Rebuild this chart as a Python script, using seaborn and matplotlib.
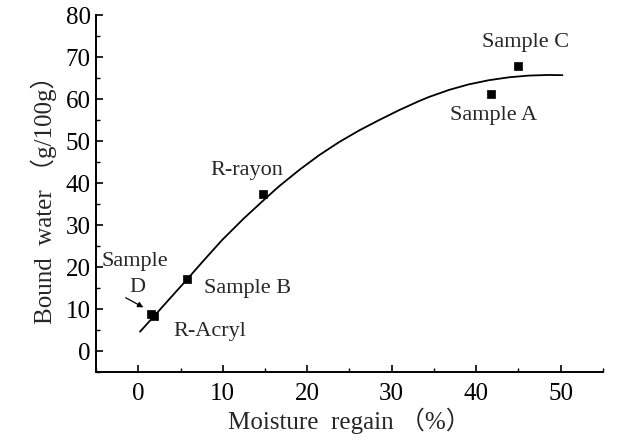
import matplotlib
matplotlib.use("Agg")
import matplotlib.pyplot as plt
import seaborn as sns
import pandas as pd
from matplotlib.ticker import MultipleLocator

# Sample points
sample_names = ["Sample D", "R-Acryl", "Sample B", "R-rayon", "Sample A", "Sample C"]
moisture_regain = [1.5, 1.8, 5.8, 14.8, 41.8, 45.0]
bound_water = [8.8, 8.4, 17.1, 37.3, 61.2, 67.8]

# Fitted curve
curve_x = [0.2, 2.0, 4.0, 5.7, 7.8, 9.9, 12.5, 15.2, 16.7, 19.1, 21.45, 23.8, 26.2,
           28.5, 30.9, 33.2, 34.4, 36.8, 39.1, 41.5, 43.9, 46.2, 48.6, 50.2]
curve_y = [4.6, 8.6, 13.1, 16.9, 21.7, 26.4, 31.6, 36.6, 39.3, 43.2, 46.7, 49.8, 52.6,
           55.0, 57.4, 59.5, 60.5, 62.2, 63.5, 64.5, 65.2, 65.6, 65.75, 65.7]

x_ticks = [0, 10, 20, 30, 40, 50]
y_ticks = [0, 10, 20, 30, 40, 50, 60, 70, 80]

sns.set_style("ticks")
plt.rcParams["font.family"] = ["Liberation Serif", "Noto Sans CJK SC", "DejaVu Sans"]

fig = plt.figure(figsize=(6.32, 4.45), dpi=100)
ax = fig.add_axes([0.152, 0.164, 0.802, 0.802])

pts = pd.DataFrame({"x": moisture_regain, "y": bound_water, "name": sample_names})
curve = pd.DataFrame({"x": curve_x, "y": curve_y})

sns.lineplot(data=curve, x="x", y="y", ax=ax, color="black", linewidth=1.3, sort=False)
sns.scatterplot(data=pts, x="x", y="y", ax=ax, marker="s", s=38, color="black",
                edgecolor="black", linewidth=0.5, zorder=3)

ax.set_xlim(-5, 55)
ax.set_ylim(-5, 80)
ax.set_xticks(x_ticks)
ax.set_yticks(y_ticks)
ax.xaxis.set_minor_locator(MultipleLocator(5))
ax.yaxis.set_minor_locator(MultipleLocator(5))
ax.tick_params(axis="both", which="major", direction="in", length=5, width=1.2,
               labelsize=18, color="black", labelcolor="black")
ax.tick_params(axis="both", which="minor", direction="in", length=3, width=1.0, color="black")
ax.tick_params(axis="x", which="major", pad=8)
ax.tick_params(axis="y", which="major", pad=4)

for s in ["top", "right"]:
    ax.spines[s].set_visible(False)
for s in ["left", "bottom"]:
    ax.spines[s].set_linewidth(1.4)
    ax.spines[s].set_color("black")

ax.set_xlabel("Moisture  regain \uff08%\uff09", fontsize=18, labelpad=2)
ax.set_ylabel("Bound  water \uff08g/100g\uff09", fontsize=18, labelpad=6)

fs = 16
ax.text(8.5, 4.6, "R-Acryl", fontsize=fs, ha="center", va="center")
ax.text(12.9, 15.0, "Sample B", fontsize=fs, ha="center", va="center")
ax.text(12.8, 43.1, "R-rayon", fontsize=fs, ha="center", va="center")
ax.text(45.9, 73.4, "Sample C", fontsize=fs, ha="center", va="center")
ax.text(42.1, 56.0, "Sample A", fontsize=fs, ha="center", va="center")
ax.text(-0.4, 21.3, "Sample", fontsize=fs, ha="center", va="center")
ax.text(-0.15, 15.2, "D", fontsize=fs, ha="center", va="center")
ax.annotate("", xy=(0.6, 10.4), xytext=(-1.5, 12.7),
            arrowprops=dict(arrowstyle="-|>", color="black", lw=0.9,
                            mutation_scale=8, shrinkA=0, shrinkB=0))

fig.savefig("out.png", dpi=100)
